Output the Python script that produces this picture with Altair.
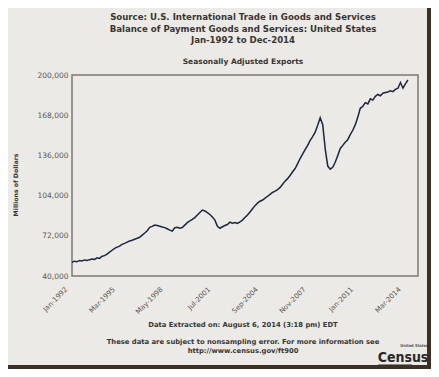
import altair as alt
import pandas as pd

# Seasonally adjusted exports, millions of dollars, one reading every 2 months from Jan-1992
start_month = "1992-01-01"
exports = [
    51000, 51800, 51300, 52400, 52000, 52800, 52300, 53000, 53500,
    53200, 54500, 54000, 55800, 56200, 57500, 59000, 60500, 62000,
    63000, 63800, 65200, 66000, 67000, 67800, 68500, 69300, 70000,
    70800, 72500, 74200, 76000, 78800, 79500, 80600, 80200, 79600,
    79000, 78500, 77600, 76500, 75800, 78500, 78800, 78000, 78600,
    80500, 82500, 83800, 85000, 86500, 88500, 90500, 92500, 91800,
    90500, 89000, 87000, 84500, 79500, 78000, 79200, 80200, 81000,
    82800, 82000, 82500, 81800, 83000, 84500, 86500, 88500, 91000,
    93500, 96000, 98000, 99500, 100500, 102000, 103500, 105000, 106500,
    107500, 108800, 110500, 113000, 115500, 117500, 120000, 123000, 125500,
    129500, 133500, 137000, 140500, 144000, 148000, 151000, 154500, 160000,
    166000, 160500, 141000, 127500, 125000, 126500, 130500, 136000, 141500,
    144000, 146500, 148500, 152500, 156000, 160500, 166500, 173500, 175000,
    178000, 177000, 181000, 180000, 183000, 184500, 183500, 185500, 186000,
    186500, 187500, 186800, 188500, 189500, 194000, 189500, 193000, 196000,
]
y_ticks = [40000, 72000, 104000, 136000, 168000, 200000]
x_tick_months = [(1992, 1), (1995, 3), (1998, 5), (2001, 7), (2004, 9), (2007, 11), (2011, 1), (2014, 3)]

title_lines = [
    "Source: U.S. International Trade in Goods and Services",
    "Balance of Payment Goods and Services: United States",
    "Jan-1992 to Dec-2014",
]
subtitle = "Seasonally Adjusted Exports"
footer_lines = [
    "Data Extracted on: August 6, 2014 (3:18 pm) EDT",
    "These data are subject to nonsampling error. For more information see",
    "http://www.census.gov/ft900",
]

df = pd.DataFrame({
    "date": pd.date_range(start_month, periods=len(exports), freq="2MS"),
    "value": exports,
})

FONT = "DejaVu Sans"
TXT = "#383634"
BG = "#ECEAE6"

line = alt.Chart(df).mark_line(color="#1d2640", strokeWidth=1.5).encode(
    x=alt.X(
        "date:T",
        scale=alt.Scale(domain=[alt.DateTime(year=1992, month=1, date=1),
                                alt.DateTime(year=2015, month=1, date=1)]),
        axis=alt.Axis(
            title=None,
            values=[alt.DateTime(year=y, month=m, date=1) for y, m in x_tick_months],
            format="%b-%Y",
            labelAngle=-45,
            labelAlign="right",
            labelBaseline="middle",
            labelPadding=12,
            labelOffset=-6,
            labelFontSize=7,
            labelFlush=False,
            labelOverlap=False,
        ),
    ),
    y=alt.Y(
        "value:Q",
        scale=alt.Scale(domain=[40000, 200000], nice=False, zero=False),
        axis=alt.Axis(title=None, values=y_ticks, format=",.0f", labelFontSize=7.5, labelPadding=4),
    ),
)

def txt(s, x, y, size, bold=True, angle=0, font=FONT, color=TXT, align="center"):
    return alt.Chart(alt.Data(values=[{}])).mark_text(
        text=s, font=font, fontSize=size, fontWeight="bold" if bold else "normal",
        angle=angle, color=color, align=align, baseline="middle",
    ).encode(x=alt.value(x), y=alt.value(y))

# plot origin is at page (72, 75)
layers = [line]
for s, yy in zip(title_lines, [17, 29, 40]):
    layers.append(txt(s, 171, yy - 75, 8.6))
layers.append(txt(subtitle, 171, 62 - 75, 7.5))
layers.append(txt("Millions of Dollars", 16 - 72, 185 - 75, 6.2, angle=270))
for s, yy in zip(footer_lines, [325, 342, 351]):
    layers.append(txt(s, 171, yy - 75, 6.8))
# Census logo
layers.append(txt("Census", 403 - 72, 358 - 75, 14, font="DejaVu Sans Condensed", color="#2a2826"))
layers.append(txt("United States", 428 - 72, 346 - 75, 4, font="DejaVu Sans Condensed",
                  color="#555", align="right"))
layers.append(
    alt.Chart(alt.Data(values=[{}])).mark_rule(color="#2a2826", strokeWidth=1.2).encode(
        x=alt.value(378 - 72), x2=alt.value(412 - 72), y=alt.value(365 - 75)
    )
)
# photo frame edges
layers.append(
    alt.Chart(alt.Data(values=[{}])).mark_rect(color="#3b2f26").encode(
        x=alt.value(427 - 72), x2=alt.value(431 - 72), y=alt.value(-67), y2=alt.value(369 - 75)
    )
)
layers.append(
    alt.Chart(alt.Data(values=[{}])).mark_rect(color="#3b2f26").encode(
        x=alt.value(-64), x2=alt.value(431 - 72), y=alt.value(365 - 75), y2=alt.value(369 - 75)
    )
)

chart = alt.layer(*layers).properties(
    width=346,
    height=201,
    autosize=alt.AutoSizeParams(type="none"),
    padding={"left": 64, "top": 67, "right": 13, "bottom": 93},
    background=BG,
).configure_view(
    stroke="#7d7872", strokeWidth=1.5, fill=BG
).configure_axis(
    labelFont=FONT, labelColor="#5a5652", domain=False, ticks=False, grid=False
)

chart.save("out.html", embed_options={"renderer": "svg", "actions": False})
